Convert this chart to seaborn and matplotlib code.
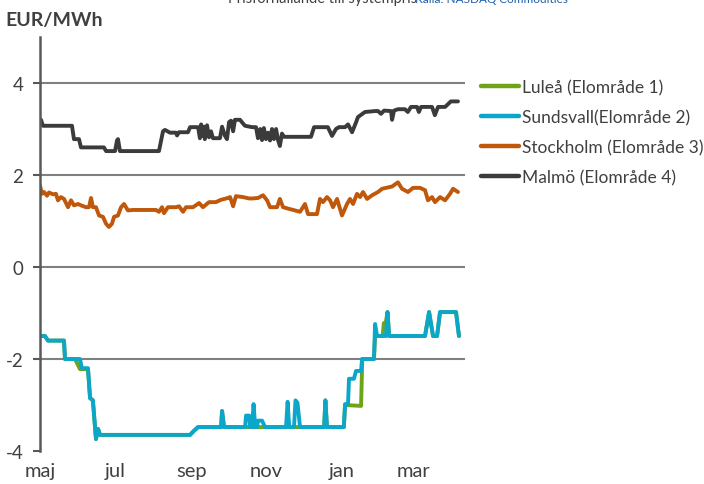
import pandas as pd
import matplotlib
matplotlib.use("Agg")
import matplotlib.pyplot as plt
from matplotlib.lines import Line2D
import seaborn as sns

# Series are given as (days since 1 May 2013, EUR/MWh) key points
start = pd.Timestamp("2013-05-01")

lulea_day = [0, 4, 6.5, 19.5, 20.3, 28.5, 32.5, 39, 40.7, 43, 45.5, 47.2, 48.8,
             122, 125.2, 128.5, 147.2, 148, 149.6, 231, 232, 233.3, 247, 248,
             261, 262, 271.5, 272.4, 278.6, 279.5, 281, 282.5, 283.8, 313,
             316.3, 319.5, 322.8, 325.2, 338.2, 340.6]
lulea_val = [-1.50, -1.50, -1.60, -1.60, -2.00, -2.00, -2.22, -2.22, -2.85, -2.90,
             -3.74, -3.52, -3.65, -3.65, -3.56, -3.48, -3.48, -3.13, -3.48, -3.48,
             -2.90, -3.48, -3.48, -3.00, -3.02, -2.00, -2.00, -1.50, -1.50, -1.22,
             -1.22, -0.98, -1.50, -1.50, -0.98, -1.50, -1.50, -0.98, -0.98, -1.50]

sundsvall_day = [0, 4, 6.5, 19.5, 20.3, 32.5, 34.1, 39, 40.7, 43, 45.5, 47.2,
                 48.8, 122, 125.2, 128.5, 147.2, 148, 149.6, 166.7, 167.5, 170,
                 170.7, 172.4, 173.6, 175, 176.4, 177.2, 180.5, 183, 200, 201.3,
                 202.6, 206.5, 207.7, 209.3, 211.4, 231, 232, 233.3, 247, 248,
                 250.4, 251.2, 255.2, 256.9, 261, 261.8, 271.5, 272.4, 274,
                 281.3, 282.5, 283.8, 313, 316.3, 319.5, 322.8, 325.2, 338.2, 340.6]
sundsvall_val = [-1.50, -1.50, -1.60, -1.60, -2.00, -2.00, -2.20, -2.20, -2.85,
                 -2.90, -3.74, -3.52, -3.65, -3.65, -3.56, -3.48, -3.48, -3.13,
                 -3.48, -3.48, -3.23, -3.23, -3.48, -3.48, -2.98, -3.48, -3.48,
                 -3.34, -3.34, -3.48, -3.48, -2.93, -3.48, -3.48, -2.90, -2.95,
                 -3.48, -3.48, -2.90, -3.48, -3.48, -2.98, -2.98, -2.43, -2.43,
                 -2.26, -2.26, -2.00, -2.00, -1.24, -1.50, -1.50, -0.98, -1.50,
                 -1.50, -0.98, -1.50, -1.50, -0.98, -0.98, -1.50]

stockholm_day = [0, 1.6, 3.3, 5.7, 7.3, 10.6, 13, 14.6, 17, 19.5, 22.8, 25.2,
                 27.6, 30.9, 33.3, 37.4, 39.8, 41.5, 43, 45.5, 48, 51.2, 53.7,
                 56, 58.5, 60.2, 63.4, 65.9, 68.3, 71.5, 75.6, 94.3, 96.7, 99.2,
                 100.8, 104, 110.6, 113, 116.3, 118.7, 124.4, 129.3, 132.5,
                 137.4, 143, 147, 152.8, 154.5, 157, 159.3, 165, 170, 172.4,
                 177.2, 181.3, 184.6, 187, 192.7, 195, 197.6, 201.6, 207.3,
                 211.4, 215.4, 217.9, 225.2, 227.6, 230, 233.3, 235.8, 238.2,
                 241.5, 245.5, 249.6, 252, 254.5, 257.7, 260.2, 262.6, 265.9,
                 270, 274.8, 278, 286.2, 291, 294.3, 299.2, 303.2, 309, 313,
                 315.4, 318.7, 321.1, 325.2, 329.3, 333.3, 335.8, 339.8]
stockholm_val = [1.77, 1.59, 1.63, 1.55, 1.62, 1.58, 1.59, 1.45, 1.52, 1.48,
                 1.30, 1.45, 1.34, 1.37, 1.34, 1.30, 1.30, 1.50, 1.30, 1.30,
                 1.12, 1.09, 0.94, 0.87, 0.94, 1.09, 1.12, 1.30, 1.37, 1.23,
                 1.24, 1.24, 1.20, 1.30, 1.17, 1.30, 1.30, 1.32, 1.20, 1.30,
                 1.30, 1.39, 1.30, 1.41, 1.41, 1.46, 1.50, 1.52, 1.32, 1.54,
                 1.52, 1.49, 1.49, 1.50, 1.56, 1.45, 1.30, 1.30, 1.48, 1.30,
                 1.27, 1.23, 1.20, 1.37, 1.15, 1.15, 1.48, 1.41, 1.52, 1.45,
                 1.30, 1.48, 1.12, 1.37, 1.48, 1.37, 1.59, 1.52, 1.63, 1.48,
                 1.56, 1.63, 1.70, 1.75, 1.84, 1.70, 1.63, 1.72, 1.72, 1.67,
                 1.45, 1.52, 1.41, 1.52, 1.45, 1.59, 1.70, 1.63]

malmo_day = [0, 0.8, 2.4, 26, 27.6, 31.7, 33.3, 52, 53.7, 61, 62.6, 63.4, 65,
             96.7, 100, 101.6, 105.7, 110.6, 111.4, 113, 120.3, 122, 128.5, 130,
             131, 132.5, 133.3, 134, 135.8, 137.4, 139, 140.6, 146.3, 148,
             150.4, 152, 153.7, 155.3, 157, 158.5, 162.6, 165, 166.7, 172.4,
             175.6, 177.2, 179, 180.5, 182, 183.7, 185.4, 187, 188.6, 190.2,
             191.9, 193.5, 195, 196.7, 198.4, 220.3, 222.8, 234, 237.4, 240.6,
             243, 248, 250.4, 253.7, 257, 258.5, 264.2, 272.4, 274.8, 277.2,
             279.7, 285.4, 286.2, 287.8, 291, 296.7, 299, 301.6, 306.5, 308,
             309.8, 318.7, 321, 323.6, 329.3, 331.7, 334, 339.8]
malmo_val = [3.10, 3.20, 3.07, 3.07, 2.78, 2.78, 2.60, 2.60, 2.52, 2.52, 2.75,
             2.78, 2.52, 2.52, 2.95, 2.98, 2.92, 2.92, 2.86, 2.93, 2.93, 3.04,
             3.04, 2.80, 3.10, 2.85, 3.05, 2.78, 3.08, 2.82, 2.95, 2.80, 2.80,
             3.05, 2.85, 2.78, 3.15, 3.18, 2.95, 3.20, 3.20, 3.12, 3.07, 3.04,
             3.04, 2.80, 3.00, 2.76, 3.02, 2.78, 2.92, 2.75, 3.00, 2.78, 3.00,
             2.76, 2.63, 2.90, 2.83, 2.83, 3.04, 3.04, 2.85, 3.00, 3.04, 3.04,
             3.10, 2.93, 3.15, 3.26, 3.37, 3.39, 3.39, 3.33, 3.40, 3.39, 3.20,
             3.40, 3.43, 3.43, 3.37, 3.48, 3.48, 3.37, 3.48, 3.48, 3.30, 3.48,
             3.48, 3.54, 3.60, 3.60]

series_names = ["Luleå (Elområde 1)", "Sundsvall(Elområde 2)",
                "Stockholm (Elområde 3)", "Malmö (Elområde 4)"]
series_days = [lulea_day, sundsvall_day, stockholm_day, malmo_day]
series_vals = [lulea_val, sundsvall_val, stockholm_val, malmo_val]
colors = ["#6EA41A", "#0BA7CA", "#C0580C", "#3B3B3B"]

month_ticks = ["2013-05-01", "2013-07-01", "2013-09-01", "2013-11-01",
               "2014-01-01", "2014-03-01"]
month_labels = ["maj", "jul", "sep", "nov", "jan", "mar"]
y_ticks = [-4, -2, 0, 2, 4]

frames = []
for name, d, v in zip(series_names, series_days, series_vals):
    frames.append(pd.DataFrame({
        "date": start + pd.to_timedelta(d, unit="D"),
        "value": v,
        "series": name,
    }))
df = pd.concat(frames, ignore_index=True)

sns.set_theme(style="white")
plt.rcParams["font.family"] = ["Lato", "DejaVu Sans"]
plt.rcParams["axes.unicode_minus"] = False

text_color = "#404040"
fig = plt.figure(figsize=(7.04, 4.85), dpi=100)
ax = fig.add_axes([40 / 704, 1 - 452 / 485, 425 / 704, 414 / 485])

sns.lineplot(data=df, x="date", y="value", hue="series", hue_order=series_names,
             palette=colors, estimator=None, sort=False, lw=2.8, ax=ax,
             legend=False)

ax.set_xlim(start, start + pd.Timedelta(days=345.5))
ax.set_ylim(-4, 5)
ax.set_xticks(pd.to_datetime(month_ticks))
ax.set_xticklabels(month_labels)
ax.set_yticks(y_ticks)
ax.set_yticklabels([str(t) for t in y_ticks])
ax.set_xlabel("")
ax.set_ylabel("")

ax.set_axisbelow(True)
ax.yaxis.grid(True, color="#808080", lw=1.5)
ax.xaxis.grid(False)
ax.yaxis.get_gridlines()[0].set_visible(False)

for side in ["top", "right", "bottom"]:
    ax.spines[side].set_visible(False)
ax.spines["left"].set_color("#595959")
ax.spines["left"].set_linewidth(1.8)

ax.tick_params(axis="y", left=True, length=5, width=1.5, color="#595959",
               direction="out", pad=7, labelsize=13.5, labelcolor=text_color)
ax.tick_params(axis="x", bottom=False, length=0, pad=8, labelsize=14.5,
               labelcolor=text_color)

fig.text(5 / 704, 1 - 26 / 485, "EUR/MWh", fontsize=14, fontweight="bold",
         color=text_color, va="baseline", ha="left")
fig.text(228 / 704, 1 - 3 / 485, "Prisförhållande till systempris",
         fontsize=10.5, color=text_color, va="baseline", ha="left")
fig.text(415 / 704, 1 - 3 / 485, "Källa: NASDAQ Commodities",
         fontsize=8.5, color="#1F5FA8", va="baseline", ha="left")

handles = [Line2D([0], [0], color=c, lw=3.2) for c in colors]
fig.legend(handles, series_names, loc="upper left",
           bbox_to_anchor=(481 / 704, 1 - 80 / 485), frameon=False,
           fontsize=12.5, handlelength=2.2, handletextpad=0.15,
           labelspacing=0.8, borderpad=0, borderaxespad=0,
           labelcolor=text_color)

fig.savefig("out.png", dpi=100)
